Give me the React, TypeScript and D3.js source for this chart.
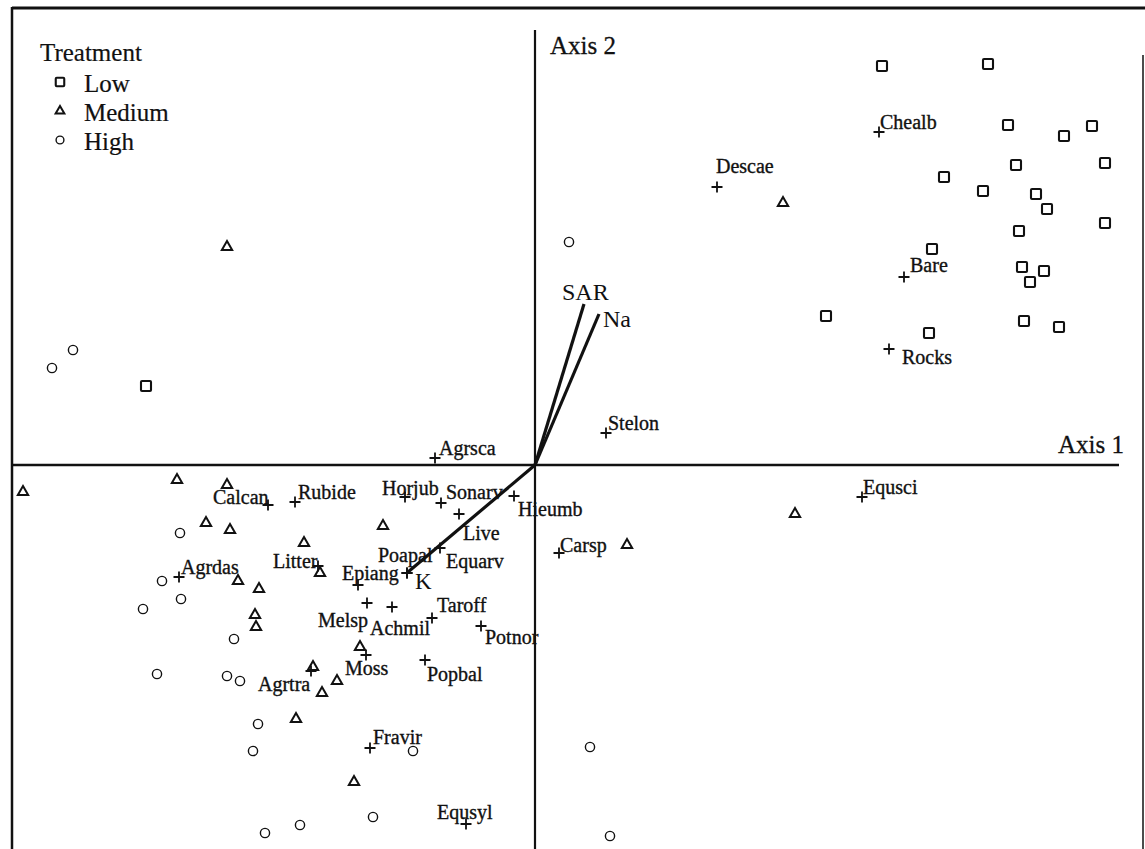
import React from "react";
import * as d3 from "d3";

// ordination scores (axis units)
const lowSites: [number, number][] = [
  [3.47, 3.99], [4.53, 4.01], [4.73, 3.4], [5.29, 3.29], [5.57, 3.39],
  [4.09, 2.88], [4.81, 3.0], [5.7, 3.02], [4.48, 2.74], [5.01, 2.71],
  [5.12, 2.56], [4.84, 2.34], [5.7, 2.42], [3.97, 2.16], [4.87, 1.98],
  [5.09, 1.94], [4.95, 1.83], [2.91, 1.49], [3.94, 1.32], [4.89, 1.44],
  [5.24, 1.38], [-3.89, 0.79],
];

const mediumSites: [number, number][] = [
  [-5.12, -0.27], [-3.58, -0.15], [-3.08, -0.2], [-3.29, -0.58], [-3.05, -0.65],
  [-2.31, -0.78], [-1.52, -0.61], [-2.97, -1.16], [-2.76, -1.24], [-2.8, -1.5],
  [-2.79, -1.62], [-2.15, -1.08], [-1.75, -1.82], [-2.22, -2.02], [-1.98, -2.16],
  [-2.13, -2.28], [-2.39, -2.54], [-1.81, -3.17], [0.92, -0.8], [2.6, -0.49],
  [2.48, 2.62], [-3.08, 2.18],
];

const highSites: [number, number][] = [
  [-4.62, 1.15], [-4.83, 0.97], [0.34, 2.23], [-3.55, -0.68], [-3.73, -1.16],
  [-3.54, -1.34], [-3.92, -1.44], [-3.01, -1.74], [-3.78, -2.09], [-3.08, -2.11],
  [-2.95, -2.16], [-2.77, -2.59], [-2.82, -2.86], [-1.22, -2.86], [0.55, -2.82],
  [-1.62, -3.52], [-2.35, -3.6], [-2.7, -3.68], [0.75, -3.71],
];

const speciesNames = [
  "Descae", "Chealb", "Bare", "Rocks", "Stelon", "Agrsca", "Equsci", "Carsp",
  "Calcan", "Rubide", "Horjub", "Sonarv", "Hieumb", "Live", "Equarv", "Poapal",
  "Epiang", "Litter", "Agrdas", "Melsp", "Achmil", "Taroff", "Potnor", "Popbal",
  "Moss", "Agrtra", "Fravir", "Equsyl",
];
const speciesScores: [number, number][] = [
  [1.82, 2.78], [3.44, 3.33], [3.69, 1.88], [3.54, 1.16], [0.71, 0.32], [-1.0, 0.07],
  [3.27, -0.32], [0.24, -0.88], [-2.67, -0.4], [-2.4, -0.37], [-1.3, -0.32],
  [-0.94, -0.38], [-0.21, -0.31], [-0.76, -0.49], [-0.95, -0.83], [-1.28, -1.08],
  [-1.77, -1.2], [-2.17, -1.01], [-3.56, -1.12], [-1.68, -1.38], [-1.43, -1.42],
  [-1.03, -1.53], [-0.54, -1.61], [-1.1, -1.95], [-1.69, -1.9], [-2.24, -2.06],
  [-1.65, -2.83], [-0.69, -3.59],
];

const envNames = ["SAR", "Na", "K"];
const envScores: [number, number][] = [[0.49, 1.61], [0.64, 1.51], [-1.27, -1.07]];

const treatments = ["Low", "Medium", "High"];

// label placement relative to the point, in px
const labelNudge: Record<string, [number, number]> = {
  Descae: [-1, -21], Chealb: [1, -10], Bare: [6, -12], Rocks: [13, 8],
  Stelon: [2, -10], Agrsca: [4, -10], Equsci: [1, -10], Carsp: [1, -8],
  Calcan: [-55, -8], Rubide: [3, -10], Horjub: [-23, -9], Sonarv: [5, -11],
  Hieumb: [4, 13], Live: [4, 19], Equarv: [6, 13], Poapal: [-29, -18],
  Epiang: [-16, -12], Litter: [-45, -5], Agrdas: [2, -10], Melsp: [-49, 17],
  Achmil: [-22, 21], Taroff: [5, -13], Potnor: [4, 11], Popbal: [2, 14],
  Moss: [-21, 13], Agrtra: [-53, 13], Fravir: [3, -11], Equsyl: [-29, -12],
  SAR: [-22, -12], Na: [4, 5], K: [7, 9],
};

const W = 1145;
const H = 849;
const font = "'Liberation Serif', 'Times New Roman', serif";

function Marker({ kind, cx, cy, s = 1 }: { kind: string; cx: number; cy: number; s?: number }) {
  if (kind === "Low")
    return (
      <rect x={cx - 5 * s} y={cy - 5 * s} width={10 * s} height={10 * s} rx={1}
        fill="none" stroke="#111" strokeWidth={2.1} />
    );
  if (kind === "Medium")
    return (
      <path
        transform={`translate(${cx},${cy})`}
        d={d3.symbol(d3.symbolTriangle, 46 * s * s)() || ""}
        fill="none"
        stroke="#111"
        strokeWidth={2}
      />
    );
  return <circle cx={cx} cy={cy} r={4.6 * s} fill="none" stroke="#111" strokeWidth={1.4} />;
}

function cross(px: number, py: number) {
  return `M${px - 5.5},${py}H${px + 5.5}M${px},${py - 5.5}V${py + 5.5}`;
}

export default function App() {
  const x = d3.scaleLinear().domain([-5.35, 6.1]).range([0, W]);
  const y = d3.scaleLinear().domain([4.65, -3.84]).range([0, H]);
  const sites: [string, [number, number][]][] = [
    ["Low", lowSites],
    ["Medium", mediumSites],
    ["High", highSites],
  ];

  return (
    <svg width={W} height={H} style={{ position: "absolute", left: 0, top: 0, background: "#fff" }} fontFamily={font}>
      {/* frame */}
      <line x1={12} x2={W} y1={8} y2={8} stroke="#111" strokeWidth={3} />
      <line x1={12} x2={12} y1={7} y2={H} stroke="#111" strokeWidth={2.5} />
      <line x1={1143} x2={1143} y1={55} y2={H} stroke="#111" strokeWidth={1.5} />

      {/* axes */}
      <line x1={x(0)} x2={x(0)} y1={30} y2={H} stroke="#111" strokeWidth={2.2} />
      <line x1={12} x2={1119} y1={y(0)} y2={y(0)} stroke="#111" strokeWidth={2.4} />
      <text x={x(0) + 15} y={45} fontSize={25} dy="0.35em" fill="#111" stroke="#111" strokeWidth={0.3}>Axis 2</text>
      <text x={1058} y={y(0) - 21} fontSize={25} dy="0.35em" fill="#111" stroke="#111" strokeWidth={0.3}>Axis 1</text>

      {/* sites */}
      {sites.map(([kind, pts]) =>
        pts.map((p, i) => <Marker key={kind + i} kind={kind} cx={x(p[0])} cy={y(p[1])} />)
      )}

      {/* species */}
      {speciesNames.map((name, i) => {
        const px = x(speciesScores[i][0]);
        const py = y(speciesScores[i][1]);
        const [dx, dy] = labelNudge[name];
        return (
          <g key={name}>
            <path d={cross(px, py)} stroke="#111" strokeWidth={1.8} />
            <text x={px + dx} y={py + dy} dy="0.35em" fontSize={20} fill="#111" stroke="#111" strokeWidth={0.35}>{name}</text>
          </g>
        );
      })}
      {/* unlabelled species point at the end of K */}
      <path d={cross(x(-1.28), y(-1.08))} stroke="#111" strokeWidth={1.8} />

      {/* environmental vectors */}
      {envNames.map((name, i) => {
        const ex = x(envScores[i][0]);
        const ey = y(envScores[i][1]);
        const [dx, dy] = labelNudge[name];
        return (
          <g key={name}>
            <line x1={x(0)} y1={y(0)} x2={ex} y2={ey} stroke="#111" strokeWidth={3.2} />
            <text x={ex + dx} y={ey + dy} dy="0.35em" fontSize={name === "K" ? 23 : 24} fill="#111">{name}</text>
          </g>
        );
      })}

      {/* legend */}
      <text x={40} y={52} dy="0.35em" fontSize={25} fill="#111" stroke="#111" strokeWidth={0.2}>Treatment</text>
      {treatments.map((t, i) => (
        <g key={t}>
          <Marker kind={t} cx={60} cy={82 + i * 29} s={0.85} />
          <text x={84} y={83 + i * 29} dy="0.35em" fontSize={25} fill="#111" stroke="#111" strokeWidth={0.2}>{t}</text>
        </g>
      ))}
    </svg>
  );
}
